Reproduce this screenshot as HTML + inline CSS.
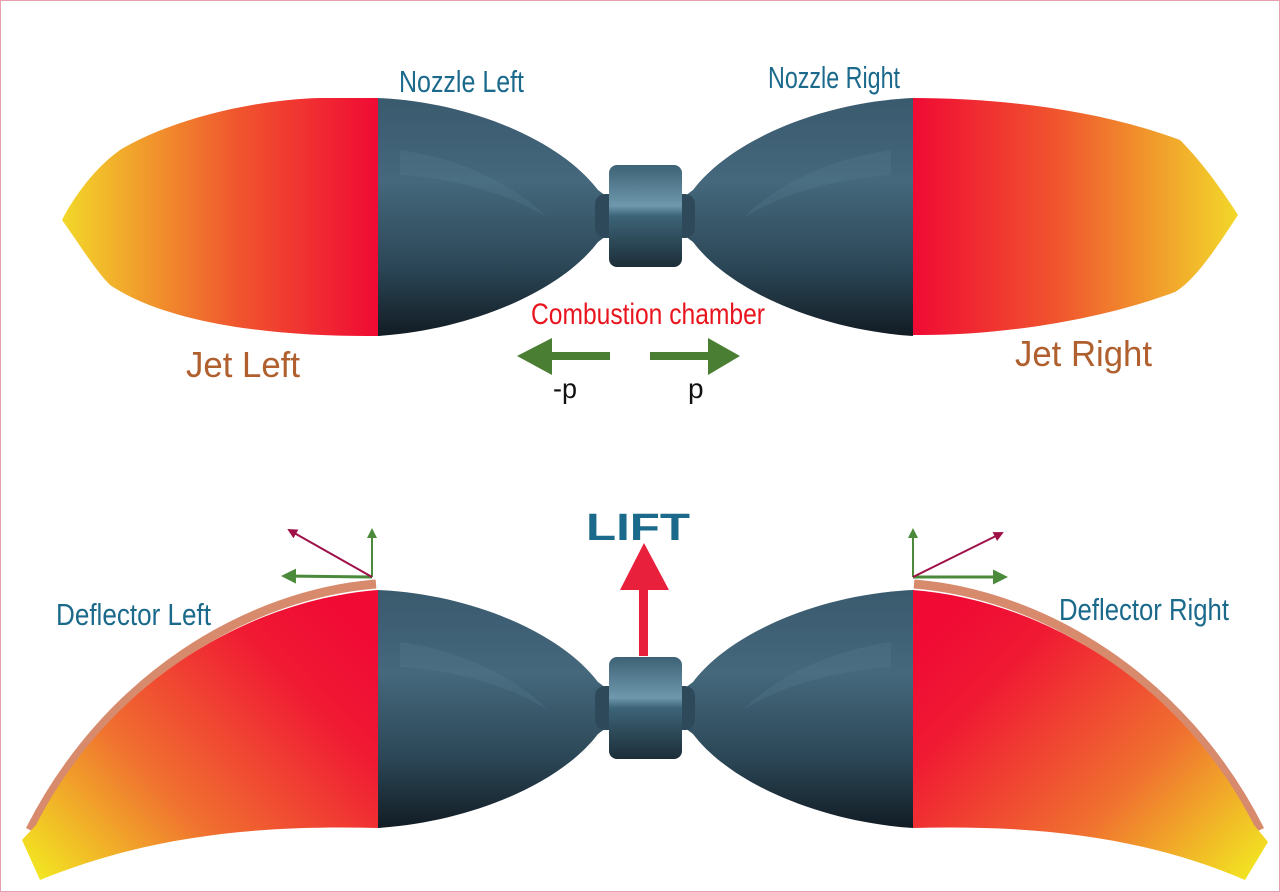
<!DOCTYPE html>
<html><head><meta charset="utf-8"><style>
html,body{margin:0;padding:0;background:#fff}
svg{display:block}
text{font-family:"Liberation Sans",sans-serif}
</style></head><body>
<svg width="1280" height="892" viewBox="0 0 1280 892" xmlns="http://www.w3.org/2000/svg">
<defs>
<linearGradient id="nz" x1="0" y1="0" x2="0" y2="1">
<stop offset="0" stop-color="#3a5a6e"/><stop offset="0.35" stop-color="#45687c"/><stop offset="0.7" stop-color="#2c4858"/><stop offset="1" stop-color="#121c24"/>
</linearGradient>
<linearGradient id="ch" x1="0" y1="0" x2="0" y2="1">
<stop offset="0" stop-color="#3d6275"/><stop offset="0.4" stop-color="#6f98ad"/><stop offset="0.5" stop-color="#3d6478"/><stop offset="1" stop-color="#1c2e38"/>
</linearGradient>
<linearGradient id="jl" x1="1" y1="0" x2="0" y2="0">
<stop offset="0" stop-color="#f00a34"/><stop offset="0.45" stop-color="#f0562e"/><stop offset="1" stop-color="#f2d82a"/>
</linearGradient>
<linearGradient id="jr" x1="0" y1="0" x2="1" y2="0">
<stop offset="0" stop-color="#f00a34"/><stop offset="0.45" stop-color="#f0562e"/><stop offset="1" stop-color="#f2d82a"/>
</linearGradient>
<linearGradient id="dl" x1="1" y1="0.2" x2="0" y2="1">
<stop offset="0" stop-color="#f00a34"/><stop offset="0.2" stop-color="#f01a33"/><stop offset="0.6" stop-color="#f07030"/><stop offset="1" stop-color="#f2f020"/>
</linearGradient>
<linearGradient id="dr" x1="0" y1="0.2" x2="1" y2="1">
<stop offset="0" stop-color="#f00a34"/><stop offset="0.2" stop-color="#f01a33"/><stop offset="0.6" stop-color="#f07030"/><stop offset="1" stop-color="#f2f020"/>
</linearGradient>
<g id="nozz">
<path d="M378,98 C470,102 560,140 598,190 L606,196 L606,236 L598,242 C560,292 470,330 378,336 Z" fill="url(#nz)"/>
<path d="M400,150 C470,160 520,190 548,218 C520,200 470,180 400,175 Z" fill="#5a7f93" opacity="0.25"/>
</g>
<g id="cham">
<rect x="0" y="0" width="73" height="102" rx="8" fill="url(#ch)"/>
</g>
<marker id="ag" viewBox="0 0 10 10" refX="8" refY="5" markerWidth="5" markerHeight="5" orient="auto"><path d="M0,0 L10,5 L0,10 Z" fill="#4a8a3a"/></marker>
<marker id="ap" viewBox="0 0 10 10" refX="8" refY="5" markerWidth="5" markerHeight="5" orient="auto"><path d="M0,0 L10,5 L0,10 Z" fill="#a01048"/></marker>
</defs>
<rect x="0.5" y="0.5" width="1279" height="891" fill="none" stroke="#e8a0b0" stroke-width="1"/>

<!-- TOP -->
<path d="M378,98 L320,98 C250,100 170,120 120,150 C95,168 75,195 62,220 C80,245 95,270 110,285 C170,325 280,337 378,336 Z" fill="url(#jl)"/>
<path d="M913,98 C1000,98 1100,110 1180,140 C1205,165 1225,195 1238,215 C1215,250 1195,280 1175,292 C1100,320 1000,336 913,335 Z" fill="url(#jr)"/>
<use href="#nozz"/>
<use href="#nozz" transform="translate(1291,0) scale(-1,1)"/>
<rect x="595" y="194" width="100" height="44" rx="10" fill="#2e4a5a"/>
<use href="#cham" transform="translate(609,165)"/>

<text x="399" y="92" font-size="31" fill="#1b6a8c" textLength="125" lengthAdjust="spacingAndGlyphs">Nozzle Left</text>
<text x="768" y="88" font-size="31" fill="#1b6a8c" textLength="132" lengthAdjust="spacingAndGlyphs">Nozzle Right</text>
<text x="531" y="324" font-size="30" fill="#e8141e" textLength="234" lengthAdjust="spacingAndGlyphs">Combustion chamber</text>
<text x="186" y="377" font-size="36" fill="#b0602e" textLength="114" lengthAdjust="spacingAndGlyphs">Jet Left</text>
<text x="1015" y="366" font-size="36" fill="#b0602e" textLength="137" lengthAdjust="spacingAndGlyphs">Jet Right</text>
<rect x="550" y="352" width="60" height="8" fill="#4a7f33"/>
<path d="M552,338 L517,356 L552,375 Z" fill="#4a7f33"/>
<rect x="650" y="352" width="60" height="8" fill="#4a7f33"/>
<path d="M708,338 L740,356 L708,375 Z" fill="#4a7f33"/>
<text x="553" y="398" font-size="28" fill="#111" textLength="24" lengthAdjust="spacingAndGlyphs">-p</text>
<text x="688" y="398" font-size="28" fill="#111">p</text>

<!-- BOTTOM -->
<path d="M376,584 C250,594 108,676 30,830" fill="none" stroke="#d88a6c" stroke-width="9"/>
<path d="M378,590 C250,600 110,680 36,825 L22,840 L40,880 C150,835 260,825 378,828 Z" fill="url(#dl)"/>
<path d="M914,584 C1040,594 1182,676 1260,830" fill="none" stroke="#d88a6c" stroke-width="9"/>
<path d="M913,590 C1040,600 1180,680 1254,825 L1268,842 L1245,880 C1140,835 1030,825 913,828 Z" fill="url(#dr)"/>
<use href="#nozz" transform="translate(0,492)"/>
<use href="#nozz" transform="translate(1291,492) scale(-1,1)"/>
<rect x="595" y="686" width="100" height="44" rx="10" fill="#2e4a5a"/>
<use href="#cham" transform="translate(609,657)"/>

<line x1="372" y1="577" x2="284" y2="576" stroke="#4a8a3a" stroke-width="3" marker-end="url(#ag)"/>
<line x1="372" y1="577" x2="372" y2="530" stroke="#4a8a3a" stroke-width="2" marker-end="url(#ag)"/>
<line x1="372" y1="577" x2="289" y2="530" stroke="#a01048" stroke-width="2" marker-end="url(#ap)"/>
<line x1="913" y1="577" x2="1005" y2="577" stroke="#4a8a3a" stroke-width="3" marker-end="url(#ag)"/>
<line x1="913" y1="577" x2="913" y2="530" stroke="#4a8a3a" stroke-width="2" marker-end="url(#ag)"/>
<line x1="913" y1="577" x2="1002" y2="533" stroke="#a01048" stroke-width="2" marker-end="url(#ap)"/>

<rect x="639" y="588" width="9" height="68" fill="#e8203c"/>
<path d="M620,590 L669,590 L644,543 Z" fill="#e8203c"/>
<text x="586" y="540" font-size="38" font-weight="bold" fill="#1b6a8c" textLength="104" lengthAdjust="spacingAndGlyphs">LIFT</text>
<text x="56" y="625" font-size="31" fill="#1b6a8c" textLength="155" lengthAdjust="spacingAndGlyphs">Deflector Left</text>
<text x="1059" y="620" font-size="31" fill="#1b6a8c" textLength="170" lengthAdjust="spacingAndGlyphs">Deflector Right</text>
</svg>
</body></html>
